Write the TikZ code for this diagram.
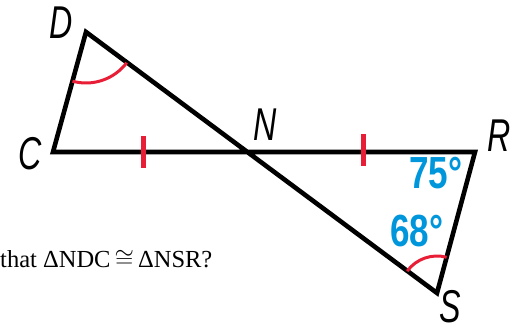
\documentclass[tikz,border=0pt]{standalone}
\usepackage{fontspec}
\usetikzlibrary{angles}
\newfontfamily\labfont[FakeStretch=0.7]{Liberation Sans}
\newfontfamily\numfont[FakeStretch=0.78]{Liberation Sans}
\setmainfont{Liberation Serif}
\definecolor{angblue}{RGB}{0,150,219}
\definecolor{markred}{RGB}{232,30,55}
\tikzset{
  edge/.style={line width=4.6pt, line join=miter, miter limit=20},
  tick/.style={markred, line width=5pt},
  angarc/.style={draw=markred, line width=3pt},
  vlabel/.style={font=\labfont\itshape\fontsize{46}{46}\selectfont, inner sep=0pt},
  deg/.style={font=\numfont\bfseries\fontsize{45}{45}\selectfont, text=angblue, inner sep=0pt},
}
\begin{document}
\begin{tikzpicture}[x=1pt,y=1pt]
\useasboundingbox (0,0) rectangle (524,330);
\coordinate (D) at (86,298);
\coordinate (C) at (53,178);
\coordinate (N) at (245,178);
\coordinate (R) at (475,178);
\coordinate (S) at (437,37);
\draw[edge] (C) -- (D) -- (S) -- (R) -- cycle;
\coordinate (t1a) at (143,194);
\coordinate (t1b) at (143,162);
\coordinate (t2a) at (363,196);
\coordinate (t2b) at (363,164);
\draw[tick] (t1a) -- (t1b);
\draw[tick] (t2a) -- (t2b);
\pic[angarc, angle radius=51pt] {angle = C--D--N};
\pic[angarc, angle radius=37pt] {angle = R--S--N};
\node[vlabel] (lD) at (61,307) {D};
\node[vlabel] (lC) at (30,176) {C};
\node[vlabel] (lN) at (265,205) {N};
\node[vlabel] (lR) at (499,194) {R};
\node[vlabel] (lS) at (450,23) {S};
\node[deg] (a75) at (436,157) {75°};
\node[deg] (a68) at (417,99) {68°};
\node[anchor=base west, inner sep=0pt, font=\fontsize{24.5}{25}\selectfont] (q) at (0,63) {that ΔNDC\,$\cong$\,ΔNSR?};
\end{tikzpicture}
\end{document}
